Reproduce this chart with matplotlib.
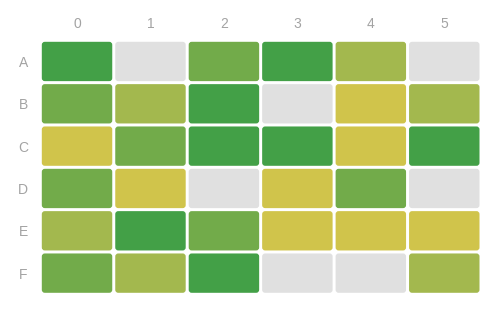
import numpy as np
import matplotlib
matplotlib.use('Agg')
import matplotlib.pyplot as plt
from matplotlib.patches import FancyBboxPatch

rows = ['A', 'B', 'C', 'D', 'E', 'F']
cols = ['0', '1', '2', '3', '4', '5']
# level per cell: 0 gray, 1 yellow, 2 yellow-green, 3 green, 4 dark green
levels = [
    [4, 0, 3, 4, 2, 0],
    [3, 2, 4, 0, 1, 2],
    [1, 3, 4, 4, 1, 4],
    [3, 1, 0, 1, 3, 0],
    [2, 4, 3, 1, 1, 1],
    [3, 2, 4, 0, 0, 2],
]
palette = ['#e0e0e0', '#d0c44b', '#a3b84e', '#72ab4a', '#43a047']

W, H = 500, 312
fig = plt.figure(figsize=(W / 100, H / 100), dpi=100)
left, right, top, bottom = 40.3, 481.0, 40.3, 294.3
ax = fig.add_axes([left / W, 1 - bottom / H, (right - left) / W, (bottom - top) / H])

nr, nc = len(rows), len(cols)
ax.set_xlim(0, nc)
ax.set_ylim(nr, 0)

xpx = nc / (right - left)   # data units per pixel in x
ypx = nr / (bottom - top)
gap = 1.5
rad = 3.0

for i, row in enumerate(levels):
    for j, lv in enumerate(row):
        x0 = j + gap * xpx
        y0 = i + gap * ypx
        w = 1 - 2 * gap * xpx
        h = 1 - 2 * gap * ypx
        p = FancyBboxPatch((x0 + rad * xpx, y0 + rad * ypx),
                           w - 2 * rad * xpx, h - 2 * rad * ypx,
                           boxstyle=f'round,pad={rad * xpx},rounding_size={rad * xpx}',
                           mutation_aspect=ypx / xpx,
                           facecolor=palette[lv], edgecolor='none')
        ax.add_patch(p)

ax.xaxis.tick_top()
ax.set_xticks(np.arange(nc) + 0.5)
ax.set_xticklabels(cols)
ax.set_yticks(np.arange(nr) + 0.5)
ax.set_yticklabels(rows)
ax.tick_params(length=0, colors='#a3a3a3', labelsize=10)
ax.tick_params(axis='x', pad=6.5)
ax.tick_params(axis='y', pad=9)
for lab in ax.get_xticklabels() + ax.get_yticklabels():
    lab.set_family('Liberation Sans')
for s in ax.spines.values():
    s.set_visible(False)

fig.savefig('out.png', dpi=100)
